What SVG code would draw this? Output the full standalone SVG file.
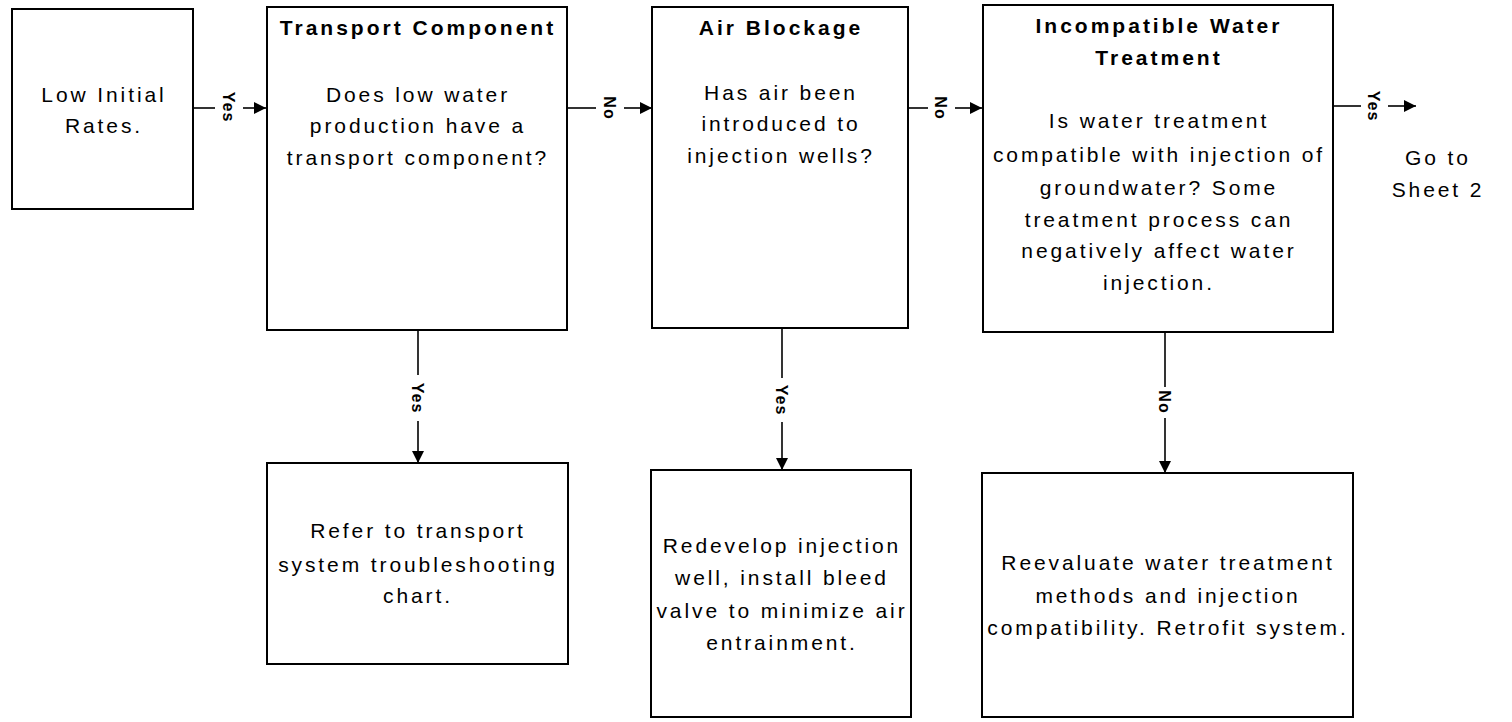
<svg xmlns="http://www.w3.org/2000/svg" width="1512" height="722" viewBox="0 0 1512 722">
<defs>
<marker id="ah" viewBox="0 0 12 12" refX="12" refY="6" markerWidth="12" markerHeight="12" markerUnits="userSpaceOnUse" orient="auto">
<path d="M0,0 L12,6 L0,12 Z" fill="#000"/>
</marker>
<style>
.box{fill:#fff;stroke:#000;stroke-width:2}
.t{font-family:"Liberation Sans",Arial,sans-serif;font-size:21px;letter-spacing:2.9px;text-anchor:middle;fill:#000}
.h{font-weight:bold;letter-spacing:3px}
.c{stroke:#000;stroke-width:1.6;fill:none}
.l{font-family:"Liberation Sans",Arial,sans-serif;font-size:16px;font-weight:600;letter-spacing:1px;text-anchor:middle;fill:#000}
</style>
</defs>
<rect width="1512" height="722" fill="#fff"/>
<g id="n1">
<rect class="box" x="12" y="9" width="181" height="200"/>
<text class="t" x="104" y="102">Low Initial</text>
<text class="t" x="104" y="133">Rates.</text>
</g>
<g id="n2">
<rect class="box" x="267" y="7" width="300" height="323"/>
<text class="t h" x="418" y="35">Transport Component</text>
<text class="t" x="418" y="102">Does low water</text>
<text class="t" x="418" y="133">production have a</text>
<text class="t" x="418" y="165">transport component?</text>
</g>
<g id="n3">
<rect class="box" x="652" y="7" width="256" height="321"/>
<text class="t h" x="781" y="35">Air Blockage</text>
<text class="t" x="781" y="100">Has air been</text>
<text class="t" x="781" y="131">introduced to</text>
<text class="t" x="781" y="163">injection wells?</text>
</g>
<g id="n4">
<rect class="box" x="983" y="5" width="350" height="327"/>
<text class="t h" x="1159" y="33">Incompatible Water</text>
<text class="t h" x="1159" y="65">Treatment</text>
<text class="t" x="1159" y="128">Is water treatment</text>
<text class="t" x="1159" y="162">compatible with injection of</text>
<text class="t" x="1159" y="195">groundwater? Some</text>
<text class="t" x="1159" y="227">treatment process can</text>
<text class="t" x="1159" y="258">negatively affect water</text>
<text class="t" x="1159" y="290">injection.</text>
</g>
<g id="n5">
<text class="t" x="1438" y="165">Go to</text>
<text class="t" x="1438" y="197">Sheet 2</text>
</g>
<g id="n6">
<rect class="box" x="267" y="463" width="301" height="201"/>
<text class="t" x="418" y="538">Refer to transport</text>
<text class="t" x="418" y="572">system troubleshooting</text>
<text class="t" x="418" y="603">chart.</text>
</g>
<g id="n7">
<rect class="box" x="651" y="470" width="260" height="247"/>
<text class="t" x="782" y="553">Redevelop injection</text>
<text class="t" x="782" y="585">well, install bleed</text>
<text class="t" x="782" y="618">valve to minimize air</text>
<text class="t" x="782" y="650">entrainment.</text>
</g>
<g id="n8">
<rect class="box" x="982" y="473" width="371" height="244"/>
<text class="t" x="1168" y="570">Reevaluate water treatment</text>
<text class="t" x="1168" y="603">methods and injection</text>
<text class="t" x="1168" y="635">compatibility. Retrofit system.</text>
</g>
<g id="connectors">
<line class="c" x1="193" y1="108" x2="215" y2="108"/>
<line class="c" x1="243" y1="108" x2="266" y2="108" marker-end="url(#ah)"/>
<text class="l" transform="translate(223,107) rotate(90)">Yes</text>
<line class="c" x1="567" y1="108" x2="596" y2="108"/>
<line class="c" x1="624" y1="108" x2="652" y2="108" marker-end="url(#ah)"/>
<text class="l" transform="translate(604,108) rotate(90)">No</text>
<line class="c" x1="908" y1="108" x2="928" y2="108"/>
<line class="c" x1="955" y1="108" x2="982" y2="108" marker-end="url(#ah)"/>
<text class="l" transform="translate(935,108) rotate(90)">No</text>
<line class="c" x1="1333" y1="106" x2="1361" y2="106"/>
<line class="c" x1="1388" y1="106" x2="1416" y2="106" marker-end="url(#ah)"/>
<text class="l" transform="translate(1368,106) rotate(90)">Yes</text>
<line class="c" x1="418" y1="330" x2="418" y2="375"/>
<line class="c" x1="418" y1="421" x2="418" y2="463" marker-end="url(#ah)"/>
<text class="l" transform="translate(412,398) rotate(90)">Yes</text>
<line class="c" x1="782" y1="328" x2="782" y2="378"/>
<line class="c" x1="782" y1="422" x2="782" y2="470" marker-end="url(#ah)"/>
<text class="l" transform="translate(776,400) rotate(90)">Yes</text>
<line class="c" x1="1165" y1="332" x2="1165" y2="387"/>
<line class="c" x1="1165" y1="418" x2="1165" y2="473" marker-end="url(#ah)"/>
<text class="l" transform="translate(1159,402) rotate(90)">No</text>
</g>
</svg>
